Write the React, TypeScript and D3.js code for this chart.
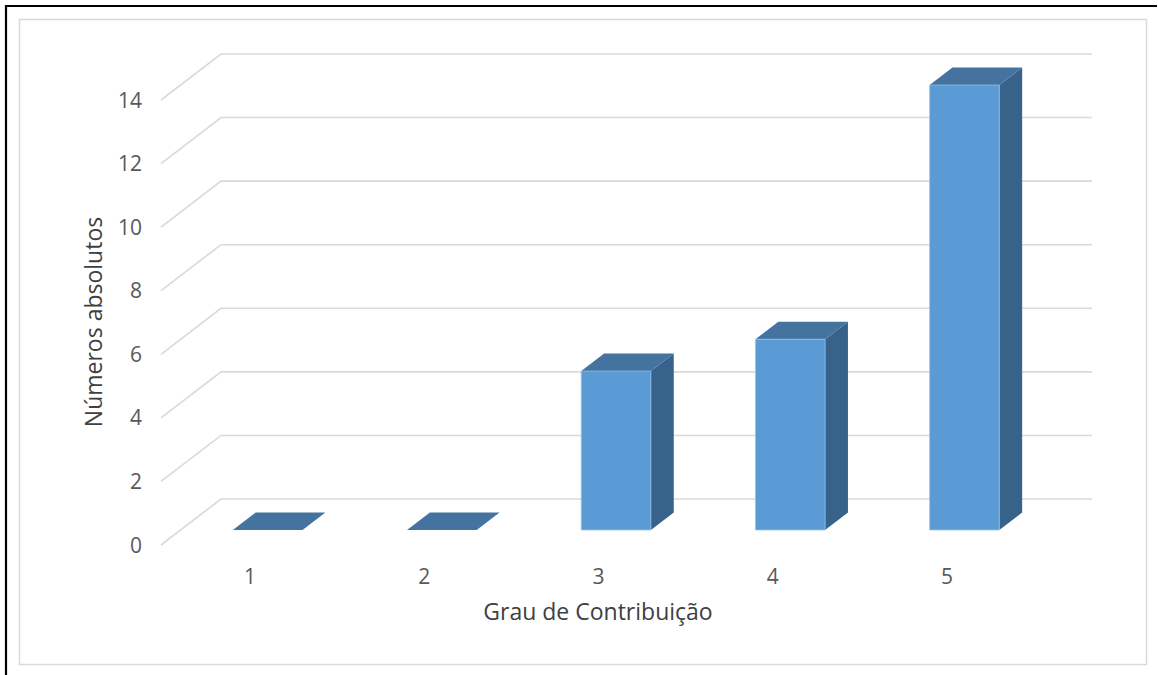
import React from "react";
import * as d3 from "d3";

const categories = ["1", "2", "3", "4", "5"];
const values = [0, 0, 5, 6, 14];
const yTicks = [0, 2, 4, 6, 8, 10, 12, 14];
const xTitle = "Grau de Contribuição";
const yTitle = "Números absolutos";

const W = 1158;
const H = 675;

// oblique projection of depth
const DX = 60;
const DY = 46;
const D0 = 0.326; // bar front depth fraction
const D1 = 0.707; // bar back depth fraction
const BAR_FRAC = 0.4;

const FRONT = "#5B9BD5";
const TOP = "#4473A0";
const SIDE = "#37628A";

export default function App() {
  const x = d3.scaleBand<string>().domain(categories).range([161, 1032]).padding(0);
  const y = d3.scaleLinear().domain([0, 14]).range([545, 100]);

  const proj = (px: number, v: number, d: number): [number, number] => [px + d * DX, y(v) - d * DY];
  const pts = (arr: [number, number][]) => arr.map((p) => p.join(",")).join(" ");

  const bw = x.bandwidth() * BAR_FRAC;

  return (
    <svg width={W} height={H} style={{ position: "absolute", left: 0, top: 0, background: "#fff" }}
      fontFamily="'Open Sans', sans-serif">
      <rect x={0} y={0} width={W} height={H} fill="#fff" />
      <path d={`M6,${H} L6,6 L${W - 1},6`} fill="none" stroke="#000" strokeWidth={2.2} />
      <rect x={19.5} y={19.5} width={1127} height={645} fill="none" stroke="#d9d9d9" strokeWidth={1.5} />

      {/* gridlines */}
      {yTicks.map((t) => {
        const a = proj(161, t, 0);
        const b = proj(161, t, 1);
        const c: [number, number] = [1092, b[1]];
        return (
          <polyline key={t} points={pts([a, b, c])} fill="none" stroke="#d9d9d9" strokeWidth={1.6} />
        );
      })}

      {/* y tick labels */}
      {yTicks.map((t) => (
        <text key={t} x={142} y={y(t)} dy="0.36em" textAnchor="end" fontSize={21} fill="#595959">
          {t}
        </text>
      ))}

      {/* bars */}
      {categories.map((c, i) => {
        const v = values[i];
        const cx = (x(c) as number) + x.bandwidth() / 2;
        const xl = cx - bw / 2;
        const xr = cx + bw / 2;
        const fbl = proj(xl, 0, D0);
        const fbr = proj(xr, 0, D0);
        const ftl = proj(xl, v, D0);
        const ftr = proj(xr, v, D0);
        const btl = proj(xl, v, D1);
        const btr = proj(xr, v, D1);
        const bbr = proj(xr, 0, D1);
        return (
          <g key={c}>
            {v > 0 && <polygon points={pts([fbr, ftr, btr, bbr])} fill={SIDE} />}
            <polygon points={pts([ftl, ftr, btr, btl])} fill={TOP} />
            {v > 0 && (
              <polygon points={pts([fbl, fbr, ftr, ftl])} fill={FRONT} stroke="#9cc3e8" strokeWidth={1} strokeOpacity={0.7} />
            )}
          </g>
        );
      })}

      {/* category labels */}
      {categories.map((c) => (
        <text key={c} x={(x(c) as number) + x.bandwidth() / 2 + 2} y={584} textAnchor="middle" fontSize={21} fill="#595959">
          {c}
        </text>
      ))}

      {/* axis titles */}
      <text x={598} y={620} textAnchor="middle" fontSize={23} fill="#404040">
        {xTitle}
      </text>
      <text transform="translate(102,322) rotate(-90)" textAnchor="middle" fontSize={23} fill="#404040">
        {yTitle}
      </text>
    </svg>
  );
}
